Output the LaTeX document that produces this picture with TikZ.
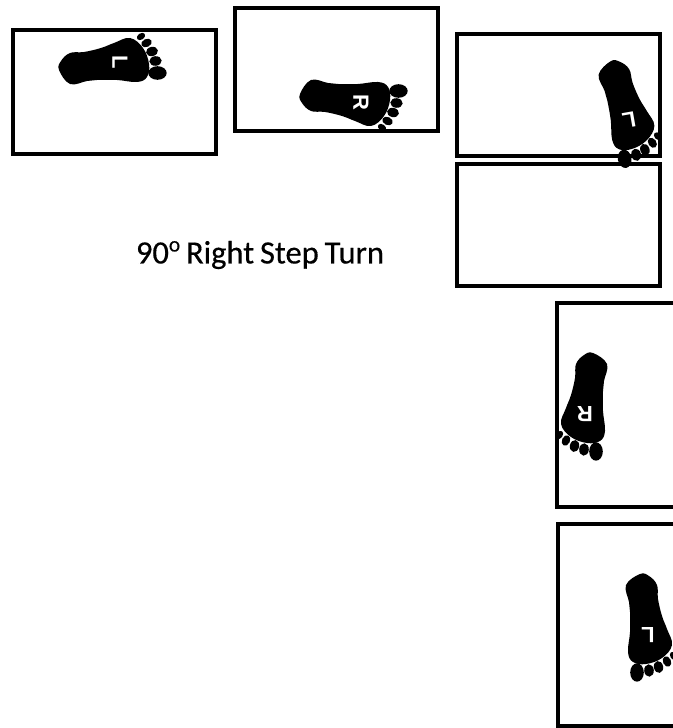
\documentclass[tikz,border=0pt]{standalone}
\usepackage{fontspec}
\newfontfamily\captionfont[FakeBold=0.35, WordSpace=0.8]{Carlito}
\newfontfamily\letterfont{Liberation Sans}
\newcommand{\footsole}{%
  \fill[black] plot[smooth cycle, tension=.65] coordinates {
    (8,-61) (22,-50) (19,-33) (18,-23) (18,-3) (20,17) (15,27) (2,29)
    (-14,23) (-24,10) (-19,-6) (-14,-19) (-10,-36) (-9,-50) (-1,-59)};
  \foreach \tx/\ty/\rx/\ry/\tilt in {11/37.5/6.8/9.2/0, -1/35.5/4.8/6.2/5, -10.5/32/4.6/6/12,
      -19/26.5/4/5.5/25, -25.5/21/3.2/4.5/35}{
    \fill[black, rotate around={\tilt:(\tx,\ty)}] (\tx,\ty) ellipse[x radius=\rx, y radius=\ry];
  }
}
\tikzset{
  matbox/.style={draw=black, line width=2.4pt},
  footletter/.style={text=white, inner sep=0pt, transform shape,
    font=\letterfont\bfseries\fontsize{16.5}{16.5}\selectfont},
  pics/leftfoot/.style={code={
    \footsole
    \node[footletter] (-letter) at (0,0) {L};
  }},
  pics/rightfoot/.style={code={
    \begin{scope}[xscale=-1]
      \footsole
    \end{scope}
    \node[footletter] (-letter) at (0,0) {R};
  }}
}

\begin{document}
\begin{tikzpicture}[x=0.75pt, y=0.75pt]

  \useasboundingbox (0,0) rectangle (673,728);
  \clip (0,0) rectangle (673,728);

  %% ── Mats ────────────────────────────────────────────────────────
  \draw[matbox] (13,698) rectangle (216,574);
  \draw[matbox] (235,720) rectangle (438,597);
  \draw[matbox] (457,694) rectangle (660,572);
  \draw[matbox] (457,564) rectangle (660,442);
  % these two run past the right edge
  \draw[matbox] (557,425) rectangle (690,221);
  \draw[matbox] (558,204) rectangle (690,2);

  %% ── Footprints ──────────────────────────────────────────────────
  \pic[rotate=-90] (foota) at (120,666) {leftfoot};
  \pic[rotate=-90] (footb) at (361,626) {rightfoot};
  \pic[rotate=190] (footc) at (629,608) {leftfoot};
  \pic[rotate=180] (footd) at (585,314) {rightfoot};
  \pic[rotate=180] (foote) at (648,93) {leftfoot};

  %% ── Caption ─────────────────────────────────────────────────────
  \node[font=\captionfont\fontsize{24.4}{26}\selectfont, inner sep=0pt] (caption) at (260,473)
    {90\raisebox{9pt}{\fontsize{16}{16}\selectfont o} Right Step Turn};

\end{tikzpicture}
\end{document}
